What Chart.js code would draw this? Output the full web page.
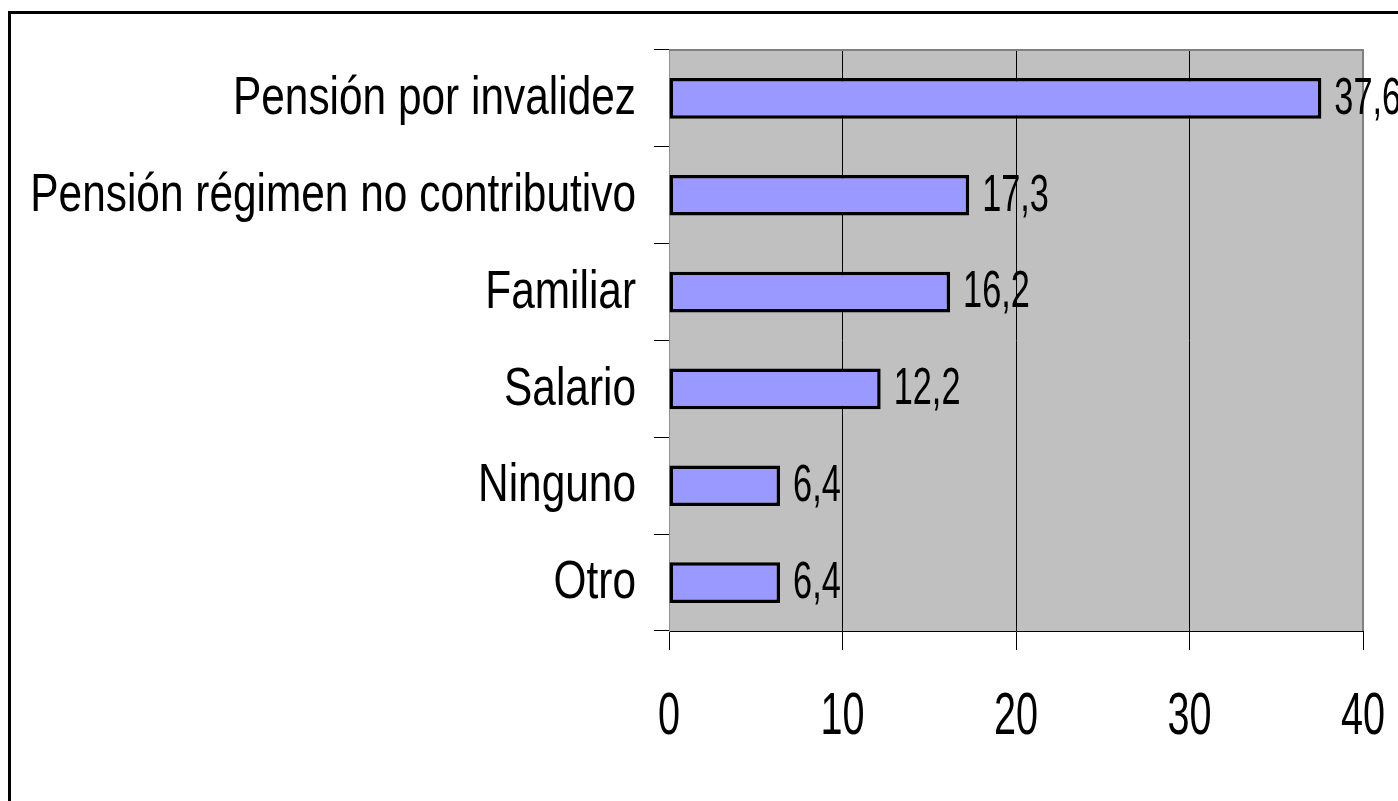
<!DOCTYPE html>
<html>
<head>
<meta charset="utf-8">
<script src="https://cdn.jsdelivr.net/npm/chart.js@4.4.0/dist/chart.umd.min.js"></script>
<style>
  html, body { margin: 0; padding: 0; background: #fff; overflow: hidden; }
  #frame {
    position: absolute; left: 8px; top: 11px; width: 1500px; height: 900px;
    border-left: 3px solid #000; border-top: 3px solid #000;
  }
  #wrap { position: absolute; left: 0; top: 0; width: 1398px; height: 801px; }
</style>
</head>
<body>
<div id="frame"></div>
<div id="wrap"><canvas id="incomeChart" width="1398" height="801"></canvas></div>
<script>
// Data
const categories = [
    'Pensión por invalidez',
    'Pensión régimen no contributivo',
    'Familiar',
    'Salario',
    'Ninguno',
    'Otro'
];
const values = [37.6, 17.3, 16.2, 12.2, 6.4, 6.4];
const valueLabels = ['37,6', '17,3', '16,2', '12,2', '6,4', '6,4'];
const xTicks = [0, 10, 20, 30, 40];

const FONT = "'Liberation Sans', Arial, sans-serif";

// The original text is a narrow face, so squeeze Liberation Sans horizontally
function narrowText(ctx, text, x, y, size, squeeze, align) {
    ctx.save();
    ctx.font = size + 'px ' + FONT;
    ctx.fillStyle = '#000';
    ctx.textAlign = align;
    ctx.textBaseline = 'middle';
    ctx.translate(x, y);
    ctx.scale(squeeze, 1);
    ctx.fillText(text, 0, 0);
    ctx.restore();
}

// Grey plot background plus grey top/right frame
const plotArea = {
    id: 'plotArea',
    beforeDraw(chart) {
        const { ctx, chartArea: a } = chart;
        ctx.save();
        ctx.fillStyle = '#c0c0c0';
        ctx.fillRect(a.left, a.top, a.right - a.left, a.bottom - a.top);
        ctx.restore();
    },
    afterDatasetsDraw(chart) {
        const { ctx, chartArea: a } = chart;
        ctx.save();
        ctx.strokeStyle = '#808080';
        ctx.lineWidth = 2;
        ctx.beginPath();
        ctx.moveTo(a.left, a.top);
        ctx.lineTo(a.right, a.top);
        ctx.lineTo(a.right, a.bottom);
        ctx.stroke();
        ctx.restore();
    }
};

// Value labels at the end of each bar
const barLabels = {
    id: 'barLabels',
    afterDatasetsDraw(chart) {
        const meta = chart.getDatasetMeta(0);
        meta.data.forEach((bar, i) => {
            narrowText(chart.ctx, valueLabels[i], bar.x + 13, bar.y + 1, 52, 0.66, 'left');
        });
    }
};

// Axis labels, placed from the scales' own tick positions
const axisLabels = {
    id: 'axisLabels',
    afterDraw(chart) {
        const ctx = chart.ctx;
        const y = chart.scales.y;
        y.ticks.forEach((t, i) => {
            narrowText(ctx, categories[t.value], y.right - 33, y.getPixelForTick(i) + 1, 53, 0.8, 'right');
        });
        const x = chart.scales.x;
        x.ticks.forEach((t, i) => {
            narrowText(ctx, String(t.value), x.getPixelForTick(i), x.top + 86, 60, 0.66, 'center');
        });
    }
};

const ctx = document.getElementById('incomeChart').getContext('2d');
new Chart(ctx, {
    type: 'bar',
    data: {
        labels: categories,
        datasets: [{
            data: values,
            backgroundColor: '#9999ff',
            borderColor: '#000',
            borderWidth: 3.5,
            borderSkipped: false,
            categoryPercentage: 1,
            barPercentage: 0.42
        }]
    },
    options: {
        indexAxis: 'y',
        responsive: false,
        animation: false,
        events: [],
        layout: { padding: { top: 50, right: 35, left: 0, bottom: 0 } },
        plugins: {
            legend: { display: false },
            tooltip: { enabled: false }
        },
        scales: {
            x: {
                min: 0,
                max: 40,
                afterBuildTicks(scale) {
                    scale.ticks = xTicks.map(v => ({ value: v }));
                },
                afterFit(scale) { scale.height = 170; },
                grid: {
                    color: c => (c.tick && (c.tick.value === 0 || c.tick.value === 40)) ? 'rgba(0,0,0,0)' : '#000',
                    tickColor: '#000',
                    lineWidth: 1,
                    drawTicks: true,
                    tickLength: 19
                },
                border: { display: true, color: '#000', width: 1 },
                ticks: { display: false }
            },
            y: {
                afterFit(scale) { scale.width = 669; },
                grid: {
                    offset: true,
                    drawOnChartArea: false,
                    drawTicks: true,
                    tickLength: 15,
                    tickColor: '#000'
                },
                border: { display: true, color: '#909090', width: 1 },
                ticks: { display: false }
            }
        }
    },
    plugins: [plotArea, barLabels, axisLabels]
});
</script>
</body>
</html>
